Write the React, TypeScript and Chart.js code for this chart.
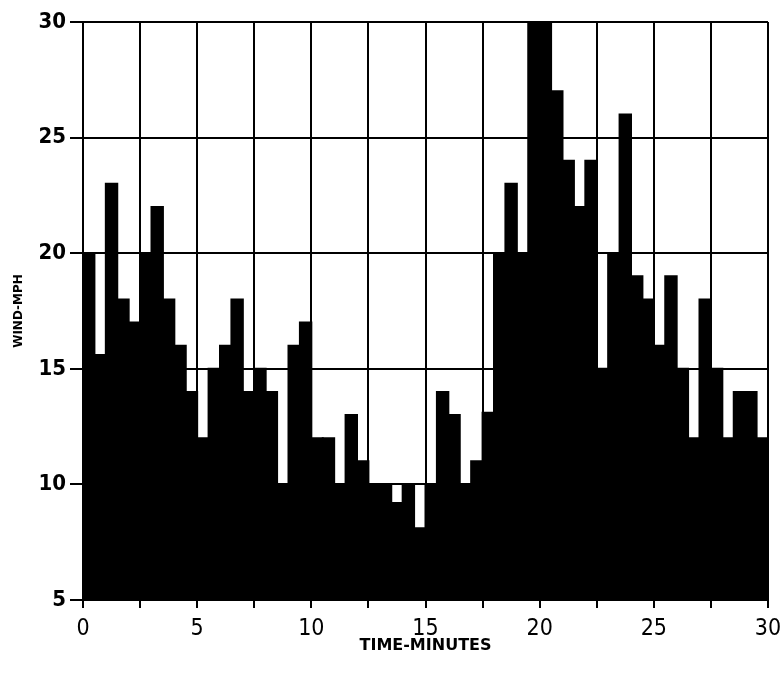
import React, { useEffect, useRef } from "react";
import { Chart, registerables } from "chart.js";

Chart.register(...registerables);

// Wind speed per half-minute interval (bin start times in minutes)
const binStarts: number[] = [
  0, 0.5, 1, 1.5, 2, 2.5, 3, 3.5, 4, 4.5,
  5, 5.5, 6, 6.5, 7, 7.5, 8, 8.5, 9, 9.5,
  10, 10.5, 11, 11.5, 12, 12.5, 13, 13.5, 14, 14.5,
  15, 15.5, 16, 16.5, 17, 17.5, 18, 18.5, 19, 19.5,
  20, 20.5, 21, 21.5, 22, 22.5, 23, 23.5, 24, 24.5,
  25, 25.5, 26, 26.5, 27, 27.5, 28, 28.5, 29, 29.5,
];
const windMph: number[] = [
  20, 15.6, 23, 18, 17, 20, 22, 18, 16, 14,
  12, 15, 16, 18, 14, 15, 14, 10, 16, 17,
  12, 12, 10, 13, 11, 10, 10, 9.2, 10, 8.1,
  10, 14, 13, 10, 11, 13.1, 20, 23, 20, 31,
  31, 27, 24, 22, 24, 15, 20, 26, 19, 18,
  16, 19, 15, 12, 18, 15, 12, 14, 14, 12,
];
const binWidth = 0.5;
const xTickLabels: number[] = [0, 5, 10, 15, 20, 25, 30];
const yTickLabels: number[] = [5, 10, 15, 20, 25, 30];

export default function App() {
  const canvasRef = useRef<HTMLCanvasElement | null>(null);

  useEffect(() => {
    const canvas = canvasRef.current;
    if (!canvas) return;
    const points = binStarts.map((s, i) => ({ x: s + binWidth / 2, y: windMph[i] }));
    const chart = new Chart(canvas, {
      type: "bar",
      data: {
        datasets: [
          {
            data: points as any,
            backgroundColor: "#000",
            borderWidth: 0,
            barPercentage: 1,
            categoryPercentage: 1,
            inflateAmount: 1,
          } as any,
        ],
      },
      options: {
        animation: false,
        responsive: false,
        maintainAspectRatio: false,
        layout: { padding: { top: 22, right: 14, left: 0, bottom: 0 } },
        plugins: { legend: { display: false }, tooltip: { enabled: false } },
        scales: {
          x: {
            type: "linear",
            min: 0,
            max: 30,
            offset: false,
            afterFit: (scale: any) => {
              scale.height = 86;
              scale.paddingLeft = 0;
              scale.paddingRight = 0;
            },
            afterBuildTicks: (scale: any) => {
              const t: any[] = [];
              for (let v = 0; v <= 30; v += 2.5) t.push({ value: v });
              scale.ticks = t;
            },
            ticks: {
              autoSkip: false,
              maxRotation: 0,
              padding: 7,
              color: "#000",
              font: { family: "'DejaVu Sans Condensed', sans-serif", size: 23 },
              callback: (v: any) => (xTickLabels.includes(Number(v)) ? String(v) : ""),
            },
            grid: {
              color: "#000",
              lineWidth: 2,
              offset: false,
              drawTicks: true,
              tickLength: 8,
            },
            border: { color: "#000", width: 2 },
            title: {
              display: true,
              text: "TIME-MINUTES",
              color: "#000",
              font: { family: "'DejaVu Sans', sans-serif", size: 16, weight: "bold" },
              padding: { top: 0, bottom: 31 },
            },
          },
          y: {
            type: "linear",
            min: 5,
            max: 30,
            afterFit: (scale: any) => {
              scale.width = 83;
            },
            afterBuildTicks: (scale: any) => {
              scale.ticks = yTickLabels.map((v) => ({ value: v }));
            },
            ticks: {
              padding: 4,
              color: "#000",
              font: { family: "'DejaVu Sans Condensed', sans-serif", size: 22, weight: "bold" },
            },
            grid: {
              color: "#000",
              lineWidth: 2,
              drawTicks: true,
              tickLength: 13,
            },
            border: { color: "#000", width: 2 },
            title: {
              display: true,
              text: "WIND-MPH",
              color: "#000",
              font: { family: "'DejaVu Sans', sans-serif", size: 12, weight: "bold" },
              padding: { top: 12, bottom: 0 },
            },
          },
        },
      },
    });
    return () => chart.destroy();
  }, []);

  return (
    <div style={{ position: "absolute", left: 0, top: 0, width: 782, height: 686, background: "#fff" }}>
      <canvas ref={canvasRef} width={782} height={686} style={{ display: "block", width: 782, height: 686 }} />
    </div>
  );
}
